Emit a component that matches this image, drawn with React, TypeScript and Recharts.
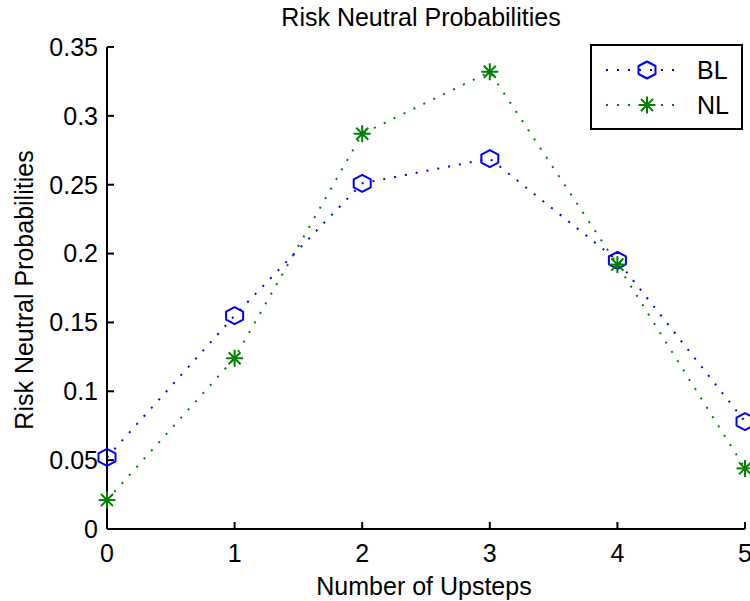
import React from 'react';
import { LineChart, Line, XAxis, YAxis, Legend } from 'recharts';

const upsteps = [0, 1, 2, 3, 4, 5];
const blValues = [0.052, 0.155, 0.251, 0.269, 0.195, 0.078];
const nlValues = [0.021, 0.124, 0.287, 0.332, 0.192, 0.044];
const xTicks = [0, 1, 2, 3, 4, 5];
const yTicks = [0, 0.05, 0.1, 0.15, 0.2, 0.25, 0.3, 0.35];
const yTickLabels = ['0', '0.05', '0.1', '0.15', '0.2', '0.25', '0.3', '0.35'];
const seriesNames = ['BL', 'NL'];
const titleText = 'Risk Neutral Probabilities';
const xLabelText = 'Number of Upsteps';
const yLabelText = 'Risk Neutral Probabilities';

const data = upsteps.map((x, i) => ({ x, BL: blValues[i], NL: nlValues[i] }));

const FONT = '"Liberation Sans", Arial, Helvetica, sans-serif';
const FS = 25;
const BLUE = '#0000ff';
const GREEN = '#008000';
const DASH = '2 9';

function hexPoints(cx: number, cy: number) {
  const r = 8.5;
  const s = 4;
  const pts = [
    [0, -r], [r, -s], [r, s], [0, r], [-r, s], [-r, -s],
  ];
  return pts.map(([dx, dy]) => `${cx + dx},${cy + dy}`).join(' ');
}

function HexMarker({ cx, cy }: { cx: number; cy: number }) {
  return <polygon points={hexPoints(cx, cy)} fill="none" stroke={BLUE} strokeWidth={2} strokeLinejoin="round" />;
}

function StarMarker({ cx, cy }: { cx: number; cy: number }) {
  const r = 8.5;
  const d = r * 0.7071;
  return (
    <g stroke={GREEN} strokeWidth={2}>
      <line x1={cx} y1={cy - r} x2={cx} y2={cy + r} />
      <line x1={cx - r} y1={cy} x2={cx + r} y2={cy} />
      <line x1={cx - d} y1={cy - d} x2={cx + d} y2={cy + d} />
      <line x1={cx - d} y1={cy + d} x2={cx + d} y2={cy - d} />
    </g>
  );
}

const blDot = (props: any) => {
  const { cx, cy, index } = props;
  if (cx == null || cy == null) return <g key={`bl-${index}`} />;
  return <g key={`bl-${index}`}><HexMarker cx={cx} cy={cy} /></g>;
};

const nlDot = (props: any) => {
  const { cx, cy, index } = props;
  if (cx == null || cy == null) return <g key={`nl-${index}`} />;
  return <g key={`nl-${index}`}><StarMarker cx={cx} cy={cy} /></g>;
};

const renderLegend = () => (
  <svg width={153} height={86} style={{ display: 'block' }}>
    <rect x={1} y={1} width={151} height={84} fill="#fff" stroke="#000" strokeWidth={2} />
    <line x1={16} y1={26} x2={91} y2={26} stroke={BLUE} strokeWidth={2} strokeDasharray={DASH} />
    <HexMarker cx={57} cy={26} />
    <text x={107} y={35} fontFamily={FONT} fontSize={FS} fill="#000">{seriesNames[0]}</text>
    <line x1={16} y1={61} x2={91} y2={61} stroke={GREEN} strokeWidth={2} strokeDasharray={DASH} />
    <StarMarker cx={57} cy={61} />
    <text x={107} y={70} fontFamily={FONT} fontSize={FS} fill="#000">{seriesNames[1]}</text>
  </svg>
);

const yFmt = (v: number) => {
  const i = yTicks.findIndex((t) => Math.abs(t - v) < 1e-9);
  return i >= 0 ? yTickLabels[i] : String(v);
};

export default function App() {
  const axisStyle = { stroke: '#000', strokeWidth: 2 };
  const tickStyle = { fill: '#000', fontSize: FS, fontFamily: FONT };
  return (
    <div style={{ position: 'absolute', left: 0, top: 0, width: 750, height: 601, background: '#fff', overflow: 'hidden' }}>
      <LineChart width={750} height={601} data={data} margin={{ top: 47, right: 5, bottom: 32, left: 7 }}>
        <XAxis
          dataKey="x"
          type="number"
          domain={[0, 5]}
          ticks={xTicks}
          interval={0}
          height={40}
          axisLine={axisStyle}
          tickLine={axisStyle}
          tickSize={-7}
          tickMargin={22}
          tick={tickStyle}
        />
        <XAxis
          xAxisId="top"
          dataKey="x"
          type="number"
          orientation="top"
          domain={[0, 5]}
          ticks={xTicks}
          interval={0}
          height={0}
          mirror
          axisLine={axisStyle}
          tickLine={axisStyle}
          tickSize={7}
          tick={false}
        />
        <YAxis
          type="number"
          domain={[0, 0.35]}
          ticks={yTicks}
          interval={0}
          width={100}
          axisLine={axisStyle}
          tickLine={axisStyle}
          tickSize={-7}
          tickMargin={16}
          tick={tickStyle}
          tickFormatter={yFmt}
        />
        <YAxis
          yAxisId="right"
          orientation="right"
          type="number"
          domain={[0, 0.35]}
          ticks={yTicks}
          interval={0}
          width={0}
          mirror
          axisLine={axisStyle}
          tickLine={axisStyle}
          tickSize={7}
          tick={false}
        />
        <Line
          dataKey="BL"
          name={seriesNames[0]}
          stroke={BLUE}
          strokeWidth={2}
          strokeDasharray={DASH}
          dot={blDot}
          activeDot={false}
          isAnimationActive={false}
        />
        <Line
          dataKey="NL"
          name={seriesNames[1]}
          stroke={GREEN}
          strokeWidth={2}
          strokeDasharray={DASH}
          dot={nlDot}
          activeDot={false}
          isAnimationActive={false}
        />
        <Legend
          layout="horizontal"
          verticalAlign="middle"
          align="center"
          content={renderLegend}
          wrapperStyle={{ position: 'absolute', left: 590, top: 44, width: 153, height: 86, margin: 0 }}
        />
      </LineChart>
      <svg width={750} height={601} style={{ position: 'absolute', left: 0, top: 0, pointerEvents: 'none' }}>
        <text x={421} y={26} textAnchor="middle" fontFamily={FONT} fontSize={FS} fill="#000">{titleText}</text>
        <text x={424} y={595} textAnchor="middle" fontFamily={FONT} fontSize={FS} fill="#000">{xLabelText}</text>
        <text x={33} y={290} transform="rotate(-90 33 290)" textAnchor="middle" fontFamily={FONT} fontSize={FS} fill="#000">{yLabelText}</text>
      </svg>
    </div>
  );
}
